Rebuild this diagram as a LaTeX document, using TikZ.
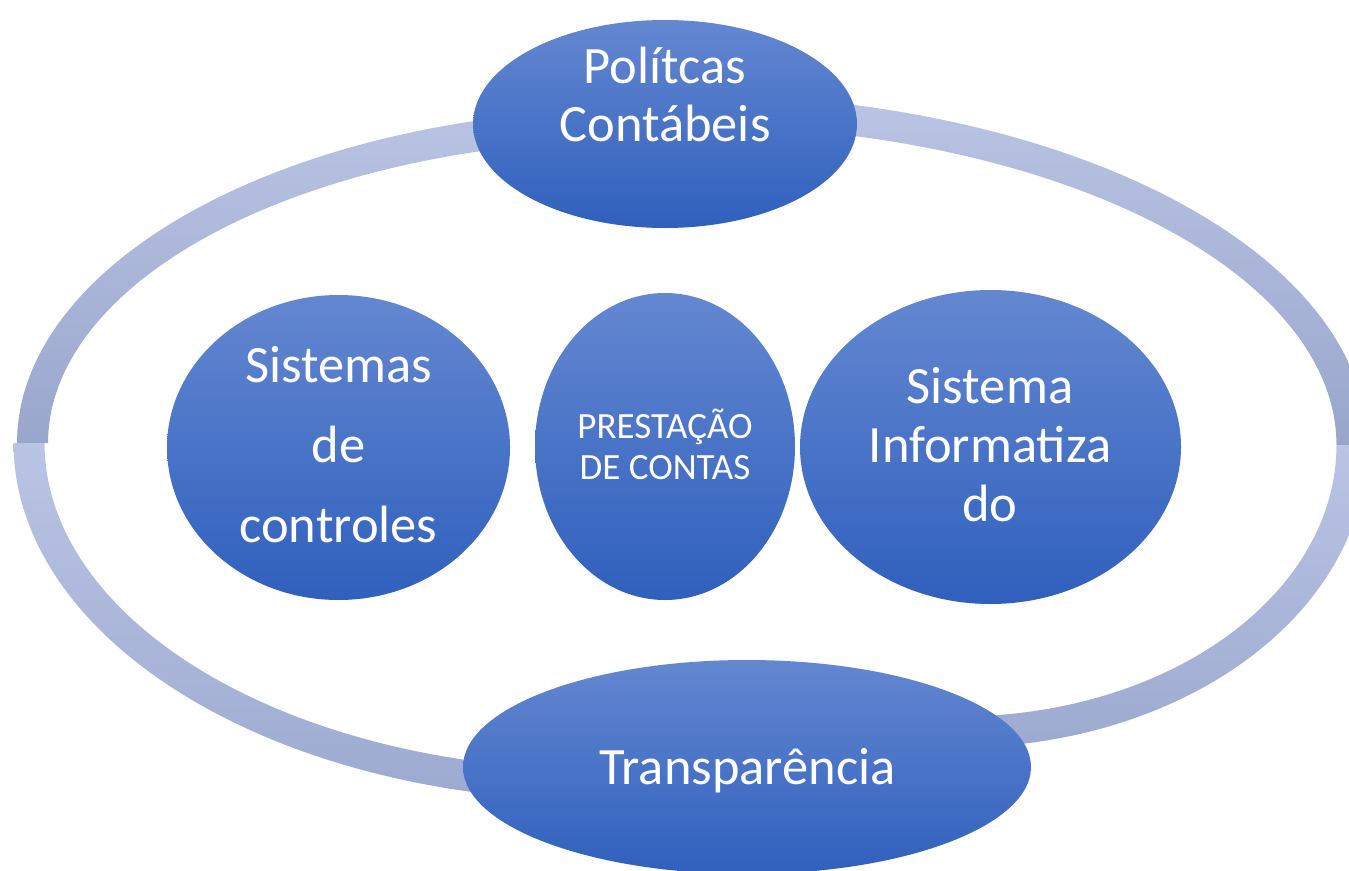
\documentclass[tikz,border=0pt]{standalone}
\usepackage{fontspec}
\setmainfont{Carlito}
\usetikzlibrary{shapes.geometric}
\definecolor{nodetop}{RGB}{100,135,209}
\definecolor{nodebot}{RGB}{47,96,189}
\definecolor{ringlight}{RGB}{186,196,228}
\definecolor{ringdark}{RGB}{153,166,204}
\definecolor{ringdarkB}{RGB}{157,170,208}
\tikzset{
  bubble/.style={ellipse, draw=none, inner sep=0pt, top color=nodetop, bottom color=nodebot},
  lbl/.style={text=white, align=center, anchor=base, inner sep=0pt},
  bigtxt/.style={font=\fontsize{52.5}{#1}\selectfont},
  ringband/.style={top color=ringlight, bottom color=#1, draw=none},
}
% quadrant band: #1 cx, #2 cy, #3 a, #4 b, #5 start angle, #6 end angle
\newcommand{\ringquad}[7]{%
  \path[ringband=#7]
    plot[domain=#5:#6, samples=80, variable=\t] ({#1+(#3+15.5)*cos(\t)}, {#2+(#4+15.5)*sin(\t)})
    -- plot[domain=#6:#5, samples=80, variable=\t] ({#1+(#3-15.5)*cos(\t)}, {#2+(#4-15.5)*sin(\t)})
    -- cycle;}
\begin{document}
\begin{tikzpicture}[x=1pt, y=-1pt]
\useasboundingbox (0,0) rectangle (1349,870);
\clip (0,0) rectangle (1349,870);
% ring (four quadrant arcs)
\ringquad{644}{443}{611.5}{319}{180}{270}{ringdark}
\ringquad{690}{445}{662}{335}{270}{360}{ringdark}
\ringquad{599}{443}{570}{342}{90}{180}{ringdarkB}
\ringquad{959}{445}{393}{287}{0}{90}{ringdarkB}
% nodes
\node[bubble, minimum width=384pt, minimum height=208pt] (pol) at (665,124) {};
\node[bubble, minimum width=343pt, minimum height=305pt] (sis) at (338.5,447.5) {};
\node[bubble, minimum width=260pt, minimum height=307pt] (pre) at (665,446.5) {};
\node[bubble, minimum width=381pt, minimum height=314pt] (inf) at (990.5,447) {};
\node[bubble, minimum width=568pt, minimum height=214pt] (tra) at (747,767) {};
% labels (anchor=base is the baseline of the last line)
\node[lbl, bigtxt=58] (polt) at (665,141) {Polítcas\\Contábeis};
\node[lbl, bigtxt=80] (sist) at (338.5,542) {Sistemas\\de\\controles};
\node[lbl, font=\fontsize{37}{41}\selectfont] (pret) at (665,479) {PRESTAÇÃO\\DE CONTAS};
\node[lbl, bigtxt=59] (inft) at (990,521) {Sistema\\Informatiza\\do};
\node[lbl, bigtxt=60] (trat) at (747.5,784) {Transparência};
\end{tikzpicture}
\end{document}
